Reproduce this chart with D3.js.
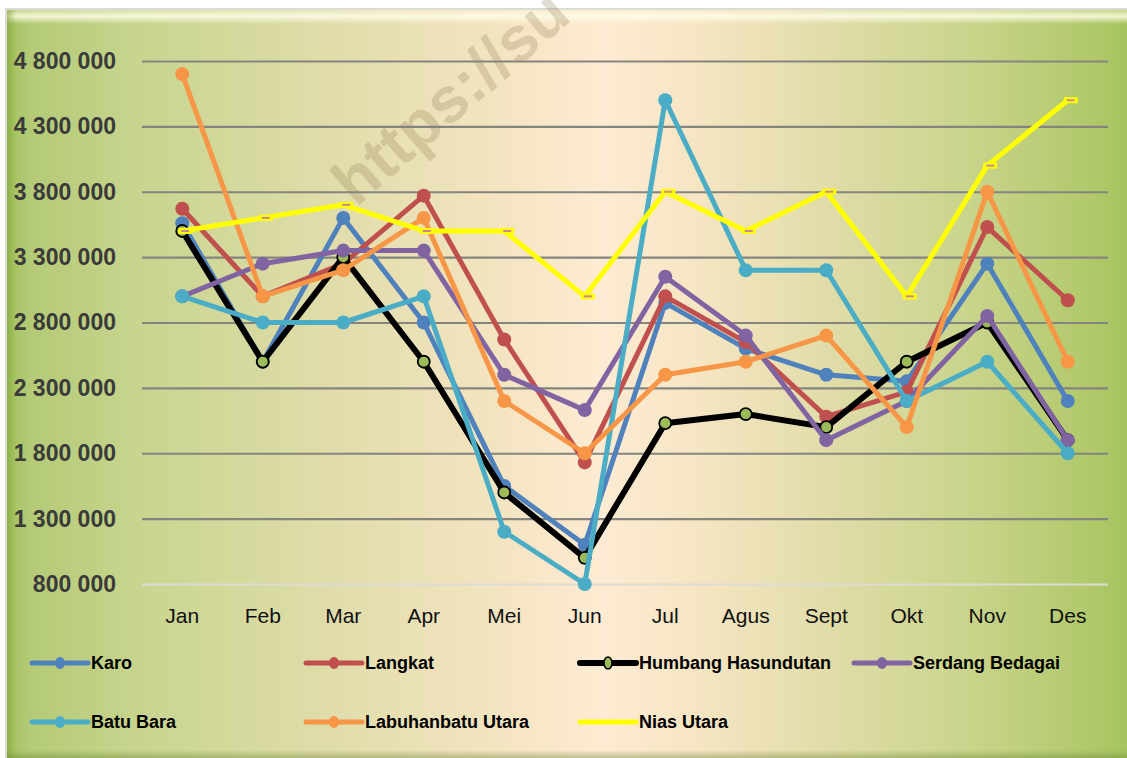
<!DOCTYPE html>
<html>
<head>
<meta charset="utf-8">
<script src="https://cdn.jsdelivr.net/npm/d3@7"></script>
<style>
  html, body { margin: 0; padding: 0; background: #fff; }
  svg { display: block; }
</style>
</head>
<body>
<div id="chart"></div>
<script>
var months = ["Jan", "Feb", "Mar", "Apr", "Mei", "Jun", "Jul", "Agus", "Sept", "Okt", "Nov", "Des"];

var karo     = [3560000, 2500000, 3600000, 2800000, 1550000, 1100000, 2950000, 2600000, 2400000, 2350000, 3250000, 2200000];
var langkat  = [3670000, 3000000, 3250000, 3770000, 2670000, 1730000, 3000000, 2650000, 2080000, 2270000, 3530000, 2970000];
var humbang  = [3500000, 2500000, 3300000, 2500000, 1500000, 1000000, 2030000, 2100000, 2000000, 2500000, 2800000, 1900000];
var serdang  = [3000000, 3250000, 3350000, 3350000, 2400000, 2130000, 3150000, 2700000, 1900000, 2200000, 2850000, 1900000];
var batuBara = [3000000, 2800000, 2800000, 3000000, 1200000, 800000, 4500000, 3200000, 3200000, 2200000, 2500000, 1800000];
var labuhan  = [4700000, 3000000, 3200000, 3600000, 2200000, 1800000, 2400000, 2500000, 2700000, 2000000, 3800000, 2500000];
var nias     = [3500000, 3600000, 3700000, 3500000, 3500000, 3000000, 3800000, 3500000, 3800000, 3000000, 4000000, 4500000];

var yTicks = [800000, 1300000, 1800000, 2300000, 2800000, 3300000, 3800000, 4300000, 4800000];

var seriesNames = ["Karo", "Langkat", "Humbang Hasundutan", "Serdang Bedagai", "Batu Bara", "Labuhanbatu Utara", "Nias Utara"];
var seriesValues = [karo, langkat, humbang, serdang, batuBara, labuhan, nias];

(function () {
  "use strict";
  var width = 1127,
      height = 758;

  var colors = ["#4F81BD", "#C0504D", "#000000", "#8064A2", "#4BACC6", "#F79646", "#FFFF00"];

  var svg = d3.select("#chart")
      .append("svg")
      .attr("width", width)
      .attr("height", height);

  var defs = svg.append("defs");

  // background gradient (green at sides, peach in the middle)
  var bg = defs.append("linearGradient").attr("id", "bg").attr("x1", "0").attr("x2", "1").attr("y1", "0").attr("y2", "0");
  [[0, "#a3c25c"], [0.02, "#b4ca76"], [0.12, "#c8d58f"], [0.3, "#e2ddac"], [0.45, "#f5e5c3"], [0.53, "#fdebd3"],
   [0.62, "#f5e5c2"], [0.72, "#e3ddac"], [0.86, "#c9d48b"], [0.97, "#b0c86a"], [1, "#a6c45e"]]
    .forEach(function (s) { bg.append("stop").attr("offset", s[0]).attr("stop-color", s[1]); });

  var topShine = defs.append("linearGradient").attr("id", "topShine").attr("x1", "0").attr("x2", "0").attr("y1", "0").attr("y2", "1");
  topShine.append("stop").attr("offset", 0).attr("stop-color", "#fffbe0").attr("stop-opacity", 0.3);
  topShine.append("stop").attr("offset", 0.45).attr("stop-color", "#fffde8").attr("stop-opacity", 0.85);
  topShine.append("stop").attr("offset", 1).attr("stop-color", "#fffde8").attr("stop-opacity", 0);

  var leftShade = defs.append("linearGradient").attr("id", "leftShade").attr("x1", "0").attr("x2", "1").attr("y1", "0").attr("y2", "0");
  leftShade.append("stop").attr("offset", 0).attr("stop-color", "#7fa43a").attr("stop-opacity", 0.6);
  leftShade.append("stop").attr("offset", 1).attr("stop-color", "#7fa43a").attr("stop-opacity", 0);

  var botShade = defs.append("linearGradient").attr("id", "botShade").attr("x1", "0").attr("x2", "0").attr("y1", "0").attr("y2", "1");
  botShade.append("stop").attr("offset", 0).attr("stop-color", "#6e8a3a").attr("stop-opacity", 0);
  botShade.append("stop").attr("offset", 1).attr("stop-color", "#6e8a3a").attr("stop-opacity", 0.45);

  svg.append("rect").attr("x", 5).attr("y", 8).attr("width", width).attr("height", height).attr("fill", "#dcdcd6");
  svg.append("rect").attr("x", 7).attr("y", 10).attr("width", width - 7).attr("height", height - 10).attr("fill", "url(#bg)");
  svg.append("rect").attr("x", 7).attr("y", 10).attr("width", width - 7).attr("height", 14).attr("fill", "url(#topShine)");
  svg.append("rect").attr("x", 7).attr("y", 10).attr("width", 9).attr("height", height - 10).attr("fill", "url(#leftShade)");
  svg.append("rect").attr("x", 7).attr("y", height - 8).attr("width", width - 7).attr("height", 8).attr("fill", "url(#botShade)");

  // watermark (runs off the top edge, as in the source)
  svg.append("text")
      .attr("transform", "translate(356,208) rotate(-41)")
      .attr("font-family", "Liberation Sans, Arial, sans-serif")
      .attr("font-weight", "bold")
      .attr("font-size", 64)
      .attr("fill", "#8a7650")
      .attr("fill-opacity", 0.25)
      .text("https://su");

  var x = d3.scaleBand().domain(months).range([142, 1108]);
  var y = d3.scaleLinear().domain([800000, 4800000]).range([584, 61]);

  var fmt = function (d) { return d3.format(",")(d).replace(/,/g, " "); };

  // gridlines + y labels
  var yAxis = d3.axisLeft(y).tickValues(yTicks).tickSize(-(1108 - 142)).tickFormat(fmt).tickPadding(26);
  var gy = svg.append("g").attr("transform", "translate(142,0)").call(yAxis);
  gy.select(".domain").remove();
  gy.selectAll(".tick line")
      .attr("stroke", function (d) { return d === 800000 ? "#dcdcd4" : "#85857f"; })
      .attr("stroke-width", 2.2);
  gy.selectAll(".tick text")
      .attr("font-family", "Liberation Sans, Arial, sans-serif")
      .attr("font-weight", "bold")
      .attr("font-size", 23)
      .attr("fill", "#3a3a3a");

  var xAxis = d3.axisBottom(x).tickSize(0).tickPadding(17);
  var gx = svg.append("g").attr("transform", "translate(0,591)").call(xAxis);
  gx.select(".domain").remove();
  gx.selectAll(".tick text")
      .attr("font-family", "Liberation Sans, Arial, sans-serif")
      .attr("font-size", 21)
      .attr("fill", "#111");

  var line = d3.line()
      .x(function (d, i) { return x(months[i]) + x.bandwidth() / 2; })
      .y(function (d) { return y(d); });

  seriesValues.forEach(function (vals, k) {
    var g = svg.append("g").attr("class", "series");
    g.append("path")
        .datum(vals)
        .attr("d", line)
        .attr("fill", "none")
        .attr("stroke", colors[k])
        .attr("stroke-width", k === 2 ? 6 : 5)
        .attr("stroke-linejoin", "round");

    if (k === 6) {
      var m = g.selectAll("g.mk").data(vals).enter().append("g")
          .attr("transform", function (d, i) {
            return "translate(" + (x(months[i]) + x.bandwidth() / 2) + "," + y(d) + ")";
          });
      m.append("rect").attr("x", -4).attr("y", -3).attr("width", 14).attr("height", 6).attr("fill", "#FFFF00");
      m.append("rect").attr("x", -1).attr("y", -1).attr("width", 8).attr("height", 2).attr("fill", "#c9879c");
    } else {
      g.selectAll("circle").data(vals).enter().append("circle")
          .attr("cx", function (d, i) { return x(months[i]) + x.bandwidth() / 2; })
          .attr("cy", function (d) { return y(d); })
          .attr("r", k === 2 ? 6 : 7)
          .attr("fill", k === 2 ? "#9BBB59" : colors[k])
          .attr("stroke", k === 2 ? "#000" : "none")
          .attr("stroke-width", 1.8);
    }
  });

  // legend
  var legCols = [32, 306, 580, 854],
      legRows = [663, 722];

  var leg = svg.selectAll("g.legend")
      .data(seriesNames)
      .enter()
      .append("g")
      .attr("class", "legend")
      .attr("transform", function (d, i) {
        return "translate(" + legCols[i % 4] + "," + legRows[Math.floor(i / 4)] + ")";
      });

  leg.append("line")
      .attr("x1", 0).attr("x2", 56).attr("y1", 0).attr("y2", 0)
      .attr("stroke", function (d, i) { return colors[i]; })
      .attr("stroke-width", function (d, i) { return i === 2 ? 6 : 5; })
      .attr("stroke-linecap", "round");

  leg.filter(function (d, i) { return i !== 6; })
      .append("ellipse")
      .attr("cx", 28).attr("cy", 0)
      .attr("rx", function (d) { return d === "Humbang Hasundutan" ? 4 : 5; })
      .attr("ry", 6)
      .attr("fill", function (d) { return d === "Humbang Hasundutan" ? "#9BBB59" : colors[seriesNames.indexOf(d)]; })
      .attr("stroke", function (d) { return d === "Humbang Hasundutan" ? "#000" : "none"; })
      .attr("stroke-width", 1.5);

  leg.append("text")
      .attr("x", 59)
      .attr("y", 0)
      .attr("dy", "0.36em")
      .attr("font-family", "Liberation Sans, Arial, sans-serif")
      .attr("font-weight", "bold")
      .attr("font-size", 18)
      .attr("fill", "#000")
      .text(function (d) { return d; });
})();
</script>
</body>
</html>
